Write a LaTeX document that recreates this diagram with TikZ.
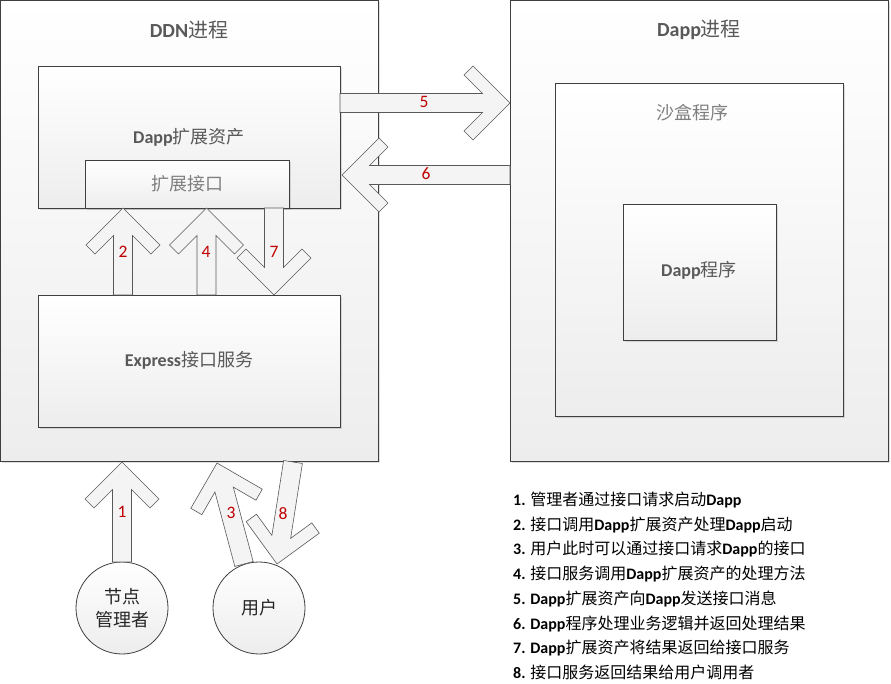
\documentclass[tikz,border=0pt]{standalone}
\usepackage{fontspec}
\setmainfont{Carlito}
\newfontfamily\cjk{Noto Sans CJK SC}
\usetikzlibrary{calc,shadows}
\definecolor{bordr}{HTML}{3F3F3F}
\definecolor{ttl}{HTML}{595959}
\definecolor{ttllight}{HTML}{7F7F7F}
\definecolor{numred}{HTML}{C00000}
\definecolor{arrfill}{HTML}{F4F4F4}
\definecolor{arrline}{HTML}{595959}
\definecolor{boxbot}{HTML}{EDEDED}
\newcommand\fatarrow[2]{%
  \draw[arr] (#2) -- ($(#2)!52.33pt!45:(#1)$) -- ($(#2)!53.85pt!31.33:(#1)$)
    -- ($(#2)!29.07pt!19.06:(#1)$) -- ($(#1)!9.5pt!-90:(#2)$) -- ($(#1)!9.5pt!90:(#2)$)
    -- ($(#2)!29.07pt!-19.06:(#1)$) -- ($(#2)!53.85pt!-31.33:(#1)$)
    -- ($(#2)!52.33pt!-45:(#1)$) -- cycle;}
\begin{document}
\begin{tikzpicture}[x=1pt,y=-1pt,
  box/.style={draw=bordr, line width=0.8pt, top color=white, bottom color=boxbot,
    anchor=north west, inner sep=0pt,
    drop shadow={shadow xshift=1.5pt, shadow yshift=-1.5pt, fill=black, opacity=0.12}},
  arr/.style={draw=arrline, line width=0.6pt, fill=arrfill, line join=miter},
  ttlA/.style={text=ttl, font=\fontsize{20}{24}\selectfont, inner sep=0pt},
  ttlB/.style={text=ttl, font=\fontsize{18}{22}\selectfont, inner sep=0pt},
  ttlC/.style={text=ttllight, font=\fontsize{18}{22}\selectfont, inner sep=0pt},
  num/.style={text=numred, font=\fontsize{17.5}{20}\selectfont, inner sep=0pt},
  person/.style={circle, draw=bordr, line width=0.8pt, top color=white, bottom color=boxbot,
    minimum size=92pt, inner sep=0pt, align=center, text=black!85,
    font=\fontsize{18}{23}\selectfont},
  leg/.style={anchor=west, inner sep=0pt, text=black, font=\fontsize{16}{18}\selectfont}]
\useasboundingbox (0,0) rectangle (891,684);

% outer process boxes
\node[box, minimum width=378pt, minimum height=461pt] (ddn) at (0,0) {};
\node[box, minimum width=378pt, minimum height=461pt] (dapp) at (510,0) {};
\node[ttlA] (ddnt) at (189,30) {\textbf{DDN}{\cjk 进程}};
\node[ttlA] (dappt) at (699,30) {\textbf{Dapp}{\cjk 进程}};

% inner boxes of DDN
\node[box, minimum width=302pt, minimum height=142pt] (ext) at (38,66) {};
\node[ttlB] (extt) at (189,137) {\textbf{Dapp}{\cjk 扩展资产}};
\node[box, minimum width=204pt, minimum height=48pt] (iface) at (85,160) {};
\node[ttlC] (ifacet) at (187,184) {\cjk 扩展接口};
\node[box, minimum width=302pt, minimum height=132pt] (expr) at (38,295) {};
\node[ttlB] (exprt) at (189,360) {\textbf{Express}{\cjk 接口服务}};

% inner boxes of Dapp process
\node[box, minimum width=288pt, minimum height=333pt] (sand) at (555,83) {};
\node[ttlC] (sandt) at (692,113) {\cjk 沙盒程序};
\node[box, minimum width=153pt, minimum height=136pt] (prog) at (623,204) {};
\node[ttlB] (progt) at (699,270) {\textbf{Dapp}{\cjk 程序}};

% people
\node[person] (admin) at (122,608) {\cjk 节点\\\cjk 管理者};
\node[person] (user) at (259,608) {\cjk 用户};

% arrow end points
\coordinate (t1) at (122,562); \coordinate (h1) at (122,462);
\coordinate (t2) at (123,295); \coordinate (h2) at (123,208);
\coordinate (t3) at (244,564); \coordinate (h3) at (217,463);
\coordinate (t4) at (206.5,295); \coordinate (h4) at (206.5,208);
\coordinate (t5) at (340,103); \coordinate (h5) at (510,103);
\coordinate (t6) at (510,175); \coordinate (h6) at (342,175);
\coordinate (t7) at (274,208); \coordinate (h7) at (274,295);
\coordinate (t8) at (293,462); \coordinate (h8) at (277,564);

\fatarrow{t2}{h2}
\fatarrow{t4}{h4}
\fatarrow{t7}{h7}
\fatarrow{t5}{h5}
\fatarrow{t6}{h6}
\fatarrow{t1}{h1}
\fatarrow{t3}{h3}
\fatarrow{t8}{h8}

\node[num] (n1) at (122,512) {1};
\node[num] (n2) at (123,252) {2};
\node[num] (n3) at (231,513) {3};
\node[num] (n4) at (206,252) {4};
\node[num] (n5) at (424,102) {5};
\node[num] (n6) at (426,174) {6};
\node[num] (n7) at (274,252) {7};
\node[num] (n8) at (283,514) {8};

% legend
\node[leg] (l1) at (513,500) {\textbf{1.} {\cjk 管理者通过接口请求启动}\textbf{Dapp}};
\node[leg] (l2) at (513,524.7) {\textbf{2.} {\cjk 接口调用}\textbf{Dapp}{\cjk 扩展资产处理}\textbf{Dapp}{\cjk 启动}};
\node[leg] (l3) at (513,549.4) {\textbf{3.} {\cjk 用户此时可以通过接口请求}\textbf{Dapp}{\cjk 的接口}};
\node[leg] (l4) at (513,574.1) {\textbf{4.} {\cjk 接口服务调用}\textbf{Dapp}{\cjk 扩展资产的处理方法}};
\node[leg] (l5) at (513,598.8) {\textbf{5. Dapp}{\cjk 扩展资产向}\textbf{Dapp}{\cjk 发送接口消息}};
\node[leg] (l6) at (513,623.5) {\textbf{6. Dapp}{\cjk 程序处理业务逻辑并返回处理结果}};
\node[leg] (l7) at (513,648.2) {\textbf{7. Dapp}{\cjk 扩展资产将结果返回给接口服务}};
\node[leg] (l8) at (513,672.9) {\textbf{8.} {\cjk 接口服务返回结果给用户调用者}};
\end{tikzpicture}
\end{document}
